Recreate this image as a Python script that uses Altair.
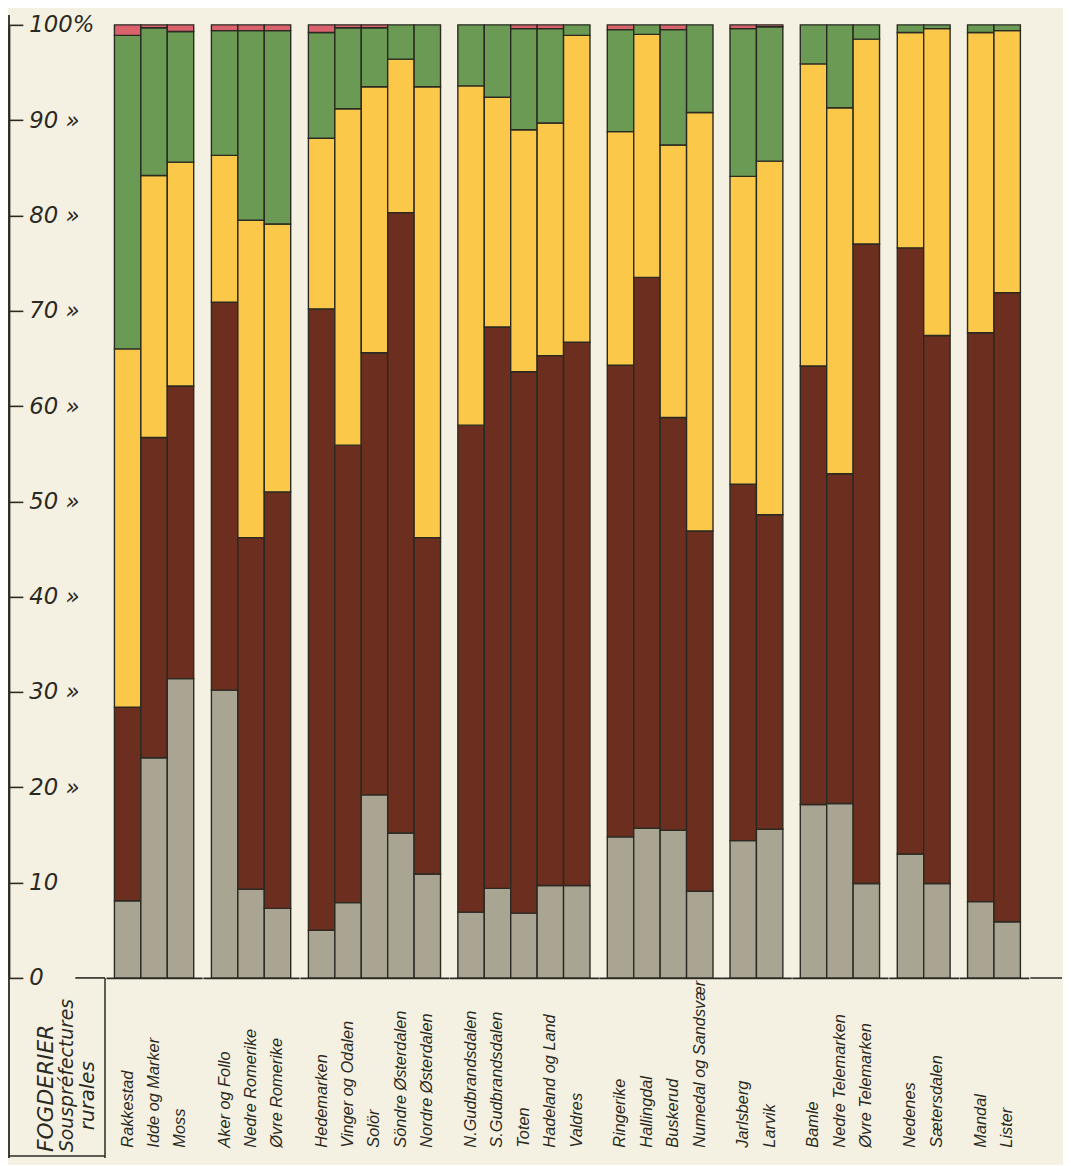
import altair as alt
import pandas as pd

# ---------------- data ----------------
districts = [
    "Rakkestad", "Idde og Marker", "Moss",
    "Aker og Follo", "Nedre Romerike", "Øvre Romerike",
    "Hedemarken", "Vinger og Odalen", "Solör", "Söndre Østerdalen", "Nordre Østerdalen",
    "N.Gudbrandsdalen", "S.Gudbrandsdalen", "Toten", "Hadeland og Land", "Valdres",
    "Ringerike", "Hallingdal", "Buskerud", "Numedal og Sandsvær",
    "Jarlsberg", "Larvik",
    "Bamle", "Nedre Telemarken", "Øvre Telemarken",
    "Nedenes", "Sætersdalen",
    "Mandal", "Lister",
]
group_of = [1, 1, 1, 2, 2, 2, 3, 3, 3, 3, 3, 4, 4, 4, 4, 4, 5, 5, 5, 5, 6, 6, 7, 7, 7, 8, 8, 9, 9]

grey = [8.1, 23.1, 31.4, 30.2, 9.3, 7.3, 5.0, 7.9, 19.2, 15.2, 10.9, 6.9, 9.4, 6.8, 9.7, 9.7,
        14.8, 15.7, 15.5, 9.1, 14.4, 15.6, 18.2, 18.3, 9.9, 13.0, 9.9, 8.0, 5.9]
brown = [20.3, 33.6, 30.7, 40.7, 36.9, 43.7, 65.2, 48.0, 46.4, 65.1, 35.3, 51.1, 58.9, 56.8, 55.6, 57.0,
         49.5, 57.8, 43.3, 37.8, 37.4, 33.0, 46.0, 34.6, 67.1, 63.6, 57.5, 59.7, 66.0]
yellow = [37.6, 27.5, 23.5, 15.4, 33.3, 28.1, 17.9, 35.3, 27.9, 16.1, 47.3, 35.6, 24.1, 25.4, 24.4, 32.2,
          24.5, 25.5, 28.6, 43.9, 32.3, 37.1, 31.7, 38.4, 21.5, 22.6, 32.2, 31.5, 27.5]
green = [32.9, 15.5, 13.7, 13.1, 19.9, 20.3, 11.1, 8.5, 6.2, 3.6, 6.5, 6.4, 7.6, 10.6, 9.9, 1.1,
         10.7, 1.0, 12.1, 9.2, 15.5, 14.1, 4.1, 8.7, 1.5, 0.8, 0.4, 0.8, 0.6]
red = [1.1, 0.3, 0.7, 0.6, 0.6, 0.6, 0.8, 0.3, 0.3, 0.0, 0.0, 0.0, 0.0, 0.4, 0.4, 0.0,
       0.5, 0.0, 0.5, 0.0, 0.4, 0.2, 0.0, 0.0, 0.0, 0.0, 0.0, 0.0, 0.0]

series_names = ["grå", "brun", "gul", "grøn", "rød"]
series_colors = ["#a9a592", "#6c2e1e", "#fcc84a", "#6a9a54", "#d9626c"]
y_ticks = [0, 10, 20, 30, 40, 50, 60, 70, 80, 90, 100]

rows = []
for i, d in enumerate(districts):
    for k, vals in enumerate([grey, brown, yellow, green, red]):
        if vals[i] > 0:
            rows.append({"district": d, "group": group_of[i], "series": series_names[k],
                         "k": k, "value": vals[i]})
df = pd.DataFrame(rows)

# ---------------- styling ----------------
INK = "#2a2a22"
BG = "#f5f1e2"
FONT = "DejaVu Sans"
LFONT = "Liberation Sans"
H = 963
STEP = 26.7
LEFT_W = 97


def panel(g):
    names = [d for d, gg in zip(districts, group_of) if gg == g]
    sub = df[df["group"] == g]
    return alt.Chart(sub).mark_bar(stroke=INK, strokeWidth=1.4).encode(
        x=alt.X("district:N", sort=names,
                scale=alt.Scale(paddingInner=0, paddingOuter=0.32),
                axis=alt.Axis(title=None, labelAngle=-90, labelAlign="left", labelBaseline="middle",
                              labelPadding=171, ticks=False, domain=True, domainColor=INK,
                              domainWidth=1.6, labelFont=LFONT,
                              labelFontStyle="italic", labelFontSize=16.5, labelColor=INK,
                              labelLimit=180, labelOverlap=False)),
        y=alt.Y("value:Q", stack="zero", scale=alt.Scale(domain=[0, 100]), axis=None),
        color=alt.Color("series:N", scale=alt.Scale(domain=series_names, range=series_colors),
                        legend=None),
        order=alt.Order("k:Q", sort="ascending"),
    ).properties(width=alt.Step(STEP), height=H)


tick_df = pd.DataFrame({"v": [0]})

# left panel: y axis, baseline stub, table frame and stub titles
axis_layer = alt.Chart(tick_df).mark_rule(color=INK, strokeWidth=1.6).encode(
    x=alt.value(67), x2=alt.value(LEFT_W),
    y=alt.Y("v:Q", scale=alt.Scale(domain=[0, 100]),
            axis=alt.Axis(orient="right", offset=-LEFT_W, values=y_ticks, title=None,
                          labelExpr="datum.value == 100 ? '100%' : (datum.value >= 20 ? datum.value + ' »' : '' + datum.value)",
                          tickSize=14, tickColor=INK, tickWidth=1.6, domainColor=INK, domainWidth=1.8,
                          labelFont=FONT, labelFontStyle="italic", labelFontSize=23, labelColor=INK,
                          labelPadding=6, grid=False)),
)
left_border = alt.Chart(tick_df).mark_rule(color=INK, strokeWidth=1.8).encode(
    x=alt.value(0), y=alt.value(-10), y2=alt.value(H + 182))
divider = alt.Chart(tick_df).mark_rule(color=INK, strokeWidth=1.5).encode(
    x=alt.value(LEFT_W), y=alt.value(H), y2=alt.value(H + 182))
bottom_line = alt.Chart(tick_df).mark_rule(color=INK, strokeWidth=1.5).encode(
    x=alt.value(0), x2=alt.value(LEFT_W), y=alt.value(H + 180))

t1 = alt.Chart(tick_df).mark_text(text="FOGDERIER", angle=270, align="left", baseline="middle",
                                  font=FONT, fontStyle="italic", fontSize=22, color=INK).encode(
    x=alt.value(37), y=alt.value(H + 176))
t2 = alt.Chart(tick_df).mark_text(text="Souspréfectures", angle=270, align="left", baseline="middle",
                                  font=FONT, fontStyle="italic", fontSize=19, color=INK).encode(
    x=alt.value(59), y=alt.value(H + 176))
t3 = alt.Chart(tick_df).mark_text(text="rurales", angle=270, align="center", baseline="middle",
                                  font=FONT, fontStyle="italic", fontSize=20, color=INK).encode(
    x=alt.value(80), y=alt.value(H + 119))

left = alt.layer(bottom_line, left_border, divider, axis_layer, t1, t2, t3).properties(
    width=LEFT_W, height=H)

tail = alt.Chart(tick_df).mark_rule(color=INK, strokeWidth=1.6).encode(
    x=alt.value(0), x2=alt.value(32), y=alt.value(H)).properties(width=32, height=H)

chart = alt.hconcat(left, *[panel(g) for g in range(1, 10)], tail, spacing=0).properties(
    background=BG,
    padding={"left": 0, "top": 0, "right": 0, "bottom": 0},
).configure_view(stroke=None)

chart.save("out.html", embed_options={"renderer": "svg", "actions": False})
